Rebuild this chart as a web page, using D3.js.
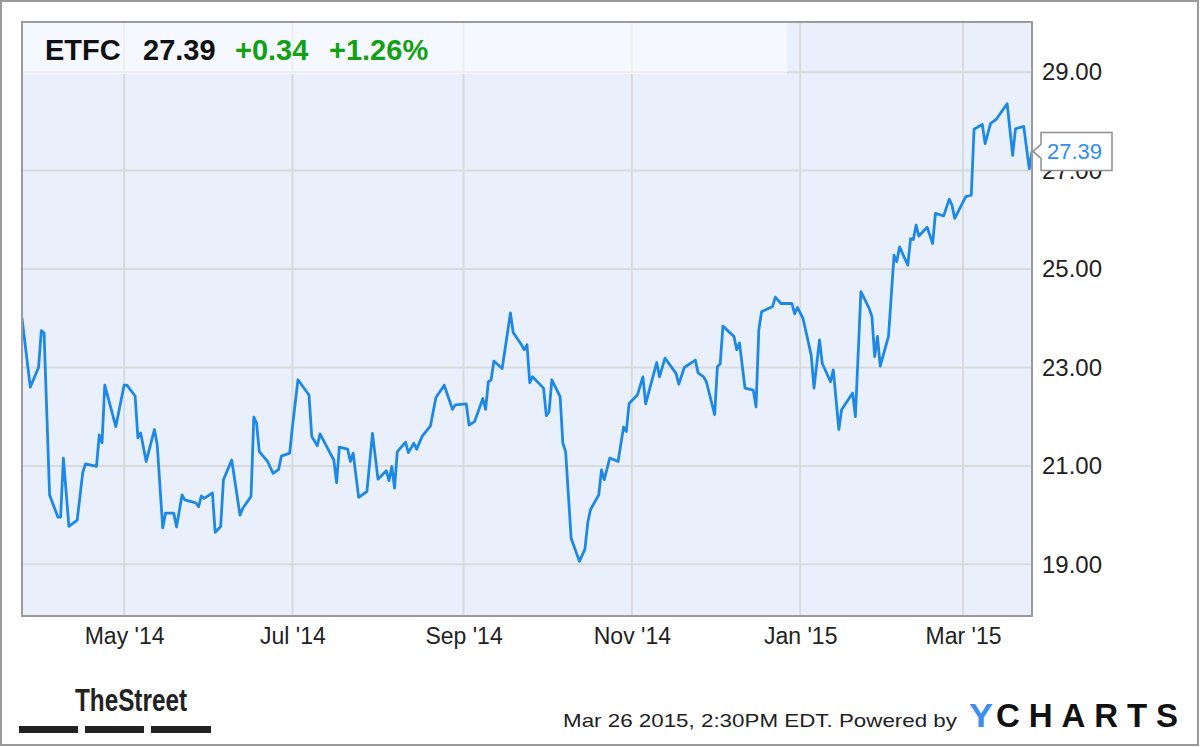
<!DOCTYPE html>
<html><head><meta charset="utf-8">
<script src="https://cdn.jsdelivr.net/npm/d3@7/dist/d3.min.js"></script>
<style>
html,body{margin:0;padding:0;background:#fff;}
svg{display:block;font-family:"Liberation Sans",Arial,sans-serif;}
</style></head>
<body>
<svg id="chart" width="1200" height="747"></svg>
<script>
const ticker = "ETFC";
const lastPrice = "27.39";
const change = "+0.34";
const changePct = "+1.26%";
const yTicks = [19, 21, 23, 25, 27, 29];
const xTickDates = ["2014-05-01","2014-07-01","2014-09-01","2014-11-01","2015-01-01","2015-03-01"];
const xTickLabels = ["May '14","Jul '14","Sep '14","Nov '14","Jan '15","Mar '15"];
const dates = [
"2014-03-25","2014-03-28","2014-03-31","2014-04-01","2014-04-02","2014-04-04","2014-04-07","2014-04-08","2014-04-09","2014-04-11",
"2014-04-14","2014-04-16","2014-04-17","2014-04-21","2014-04-22","2014-04-23","2014-04-24","2014-04-28","2014-05-01","2014-05-02",
"2014-05-05","2014-05-06","2014-05-07","2014-05-09","2014-05-12","2014-05-13","2014-05-15","2014-05-16","2014-05-19","2014-05-20",
"2014-05-22","2014-05-23","2014-05-27","2014-05-28","2014-05-29","2014-05-30","2014-06-02","2014-06-03","2014-06-05","2014-06-06",
"2014-06-09","2014-06-12","2014-06-13","2014-06-16","2014-06-17","2014-06-18","2014-06-19","2014-06-22","2014-06-24","2014-06-26",
"2014-06-27","2014-06-30","2014-07-01","2014-07-03","2014-07-07","2014-07-08","2014-07-10","2014-07-11","2014-07-14","2014-07-16",
"2014-07-17","2014-07-18","2014-07-21","2014-07-22","2014-07-23","2014-07-25","2014-07-28","2014-07-30","2014-08-01","2014-08-04",
"2014-08-05","2014-08-06","2014-08-07","2014-08-08","2014-08-11","2014-08-12","2014-08-14","2014-08-15","2014-08-17","2014-08-19",
"2014-08-20","2014-08-22","2014-08-25","2014-08-28","2014-08-29","2014-09-02","2014-09-03","2014-09-05","2014-09-08","2014-09-09",
"2014-09-10","2014-09-11","2014-09-12","2014-09-15","2014-09-18","2014-09-19","2014-09-22","2014-09-23","2014-09-24","2014-09-25",
"2014-09-26","2014-09-30","2014-10-01","2014-10-02","2014-10-03","2014-10-06","2014-10-07","2014-10-08","2014-10-10","2014-10-13",
"2014-10-15","2014-10-16","2014-10-17","2014-10-20","2014-10-21","2014-10-22","2014-10-24","2014-10-27","2014-10-29","2014-10-30",
"2014-10-31","2014-11-03","2014-11-05","2014-11-06","2014-11-10","2014-11-11","2014-11-13","2014-11-17","2014-11-18","2014-11-20",
"2014-11-24","2014-11-25","2014-11-27","2014-11-28","2014-12-01","2014-12-02","2014-12-03","2014-12-04","2014-12-08","2014-12-09",
"2014-12-10","2014-12-12","2014-12-15","2014-12-16","2014-12-17","2014-12-18","2014-12-22","2014-12-23","2014-12-25","2014-12-29",
"2014-12-30","2014-12-31","2015-01-02","2015-01-05","2015-01-06","2015-01-08","2015-01-09","2015-01-12","2015-01-13","2015-01-15",
"2015-01-16","2015-01-20","2015-01-21","2015-01-23","2015-01-26","2015-01-27","2015-01-28","2015-01-29","2015-01-30","2015-02-02",
"2015-02-04","2015-02-05","2015-02-06","2015-02-09","2015-02-10","2015-02-11","2015-02-12","2015-02-13","2015-02-16","2015-02-18",
"2015-02-19","2015-02-22","2015-02-24","2015-02-25","2015-02-26","2015-03-02","2015-03-04","2015-03-05","2015-03-08","2015-03-09",
"2015-03-11","2015-03-13","2015-03-17","2015-03-19","2015-03-20","2015-03-23","2015-03-25","2015-03-26"];
const prices = [
24.00,22.60,23.00,23.75,23.70,20.41,19.96,19.96,21.16,19.77,
19.90,20.86,21.04,20.99,21.63,21.47,22.64,21.80,22.64,22.64,
22.42,21.57,21.67,21.09,21.74,21.43,19.74,20.04,20.04,19.76,
20.41,20.31,20.25,20.17,20.39,20.34,20.45,19.65,19.77,20.72,
21.12,20.00,20.14,20.38,21.99,21.87,21.29,21.09,20.85,20.93,
21.20,21.26,21.80,22.75,22.44,21.60,21.41,21.65,21.33,21.12,
20.66,21.38,21.34,21.09,21.26,20.36,20.48,21.66,20.73,20.90,
20.70,20.99,20.55,21.29,21.48,21.27,21.46,21.34,21.60,21.74,
21.81,22.39,22.64,22.15,22.24,22.26,21.83,21.90,22.37,22.15,
22.71,22.75,23.13,22.98,24.11,23.71,23.46,23.36,23.46,22.69,
22.81,22.58,22.02,22.10,22.75,22.41,21.46,21.29,19.53,19.06,
19.31,19.84,20.11,20.41,20.92,20.72,21.16,21.09,21.79,21.70,
22.27,22.44,22.81,22.26,23.10,22.81,23.19,22.88,22.66,23.00,
23.15,22.89,22.81,22.71,22.04,23.02,23.07,23.84,23.63,23.36,
23.50,22.58,22.54,22.20,23.76,24.13,24.24,24.43,24.30,24.30,
24.09,24.22,24.00,23.25,22.58,23.56,23.08,22.71,22.95,21.74,
22.14,22.48,22.00,24.54,24.20,24.03,23.22,23.63,23.03,23.63,
25.28,25.15,25.45,25.08,25.62,25.60,25.89,25.67,25.85,25.52,
26.13,26.08,26.42,26.30,26.03,26.47,26.50,27.84,27.94,27.55,
27.96,28.04,28.36,27.31,27.85,27.90,27.04,27.39];
const footerText = "Mar 26 2015, 2:30PM EDT.  Powered by";

const parse = d3.timeParse("%Y-%m-%d");
const data = dates.map((d, i) => ({date: parse(d), value: prices[i]}));

const svg = d3.select("#chart");
const L = 22, T = 22, R = 1032, B = 616;

// outer border
svg.append("rect").attr("x", 1).attr("y", 1).attr("width", 1197).attr("height", 744)
  .attr("fill", "#fff").attr("stroke", "#9a9a9a").attr("stroke-width", 2);

const x = d3.scaleTime().domain([parse("2014-03-25"), parse("2015-03-26")]).range([L, R]);
const y = d3.scaleLinear().domain([17.95, 30.02]).range([B, T]);

// plot background
svg.append("rect").attr("x", L).attr("y", T).attr("width", R - L).attr("height", B - T).attr("fill", "#e9f0fc");

// gridlines
const grid = svg.append("g");
grid.selectAll(".hg").data(yTicks).join("line")
  .attr("x1", L).attr("x2", R).attr("y1", d => y(d)).attr("y2", d => y(d))
  .attr("stroke", "#d9dadb").attr("stroke-width", 2);
grid.selectAll(".vg").data(xTickDates).join("line")
  .attr("x1", d => x(parse(d))).attr("x2", d => x(parse(d))).attr("y1", T).attr("y2", B)
  .attr("stroke", "#d9dadb").attr("stroke-width", 2);

// header band (semi-transparent overlay)
svg.append("rect").attr("x", L).attr("y", T).attr("width", 765).attr("height", 52)
  .attr("fill", "#ffffff").attr("fill-opacity", 0.55);

// clip
svg.append("clipPath").attr("id", "clip").append("rect").attr("x", L).attr("y", T).attr("width", R - L).attr("height", B - T);

// line
const line = d3.line().x(d => x(d.date)).y(d => y(d.value));
svg.append("path").datum(data).attr("clip-path", "url(#clip)")
  .attr("d", line).attr("fill", "none").attr("stroke", "#1e88e5")
  .attr("stroke-width", 2.8).attr("stroke-linejoin", "round");

// plot frame
svg.append("rect").attr("x", L).attr("y", T).attr("width", R - L).attr("height", B - T)
  .attr("fill", "none").attr("stroke", "#9b9b9b").attr("stroke-width", 2);

// y axis
const yAxis = d3.axisRight(y).tickValues(yTicks).tickFormat(d3.format(".2f")).tickSize(0).tickPadding(10);
const ya = svg.append("g").attr("transform", `translate(${R},0)`).call(yAxis);
ya.select(".domain").remove();
ya.selectAll("text").attr("font-size", 24).attr("fill", "#222").attr("font-family", "Liberation Sans, Arial, sans-serif");

// x axis
const xAxis = d3.axisBottom(x).tickValues(xTickDates.map(parse))
  .tickFormat((d, i) => xTickLabels[i]).tickSize(0).tickPadding(12);
const xa = svg.append("g").attr("transform", `translate(0,${B})`).call(xAxis);
xa.select(".domain").remove();
xa.selectAll("text").attr("font-size", 23).attr("fill", "#222").attr("font-family", "Liberation Sans, Arial, sans-serif");

// header text
const hdr = svg.append("text").attr("x", 45).attr("y", 60).attr("font-size", 29).attr("font-weight", "bold");
hdr.append("tspan").attr("fill", "#111").text(ticker);
hdr.append("tspan").attr("x", 143).attr("fill", "#111").text(lastPrice);
hdr.append("tspan").attr("x", 235).attr("fill", "#14a014").text(change);
hdr.append("tspan").attr("x", 329).attr("fill", "#14a014").text(changePct);

// last price callout
const lv = data[data.length - 1];
const cy = y(lv.value);
const cg = svg.append("g");
cg.append("path")
  .attr("d", `M${R + 1},${cy} L${R + 9},${cy - 7} L${R + 9},${cy - 19} L${R + 80},${cy - 19} L${R + 80},${cy + 19} L${R + 9},${cy + 19} L${R + 9},${cy + 7} Z`)
  .attr("fill", "#fff").attr("stroke", "#8f8f8f").attr("stroke-width", 1.5);
cg.append("text").attr("x", R + 15).attr("y", cy + 8).attr("font-size", 22).attr("fill", "#2f8ef0").text(lastPrice);

// TheStreet logo
svg.append("text").attr("x", 75).attr("y", 711).attr("font-size", 31).attr("font-weight", "bold")
  .attr("fill", "#222").attr("textLength", 112).attr("lengthAdjust", "spacingAndGlyphs")
  .attr("font-family", "Liberation Sans Narrow, Liberation Sans, Arial, sans-serif").text("TheStreet");
[[19, 78], [85, 144], [151, 211]].forEach(([a, b]) => {
  svg.append("rect").attr("x", a).attr("y", 726).attr("width", b - a).attr("height", 7).attr("fill", "#222");
});

// footer
svg.append("text").attr("x", 563).attr("y", 727).attr("font-size", 19).attr("fill", "#222")
  .attr("textLength", 394).attr("lengthAdjust", "spacingAndGlyphs").text(footerText);
svg.append("text").attr("x", 969).attr("y", 727).attr("font-size", 33).attr("font-weight", "bold")
  .attr("fill", "#3d8ef0").attr("textLength", 24).attr("lengthAdjust", "spacingAndGlyphs").text("Y");
svg.append("text").attr("x", 996).attr("y", 727).attr("font-size", 33).attr("font-weight", "bold")
  .attr("fill", "#111").attr("textLength", 182).attr("lengthAdjust", "spacing").text("CHARTS");
</script>
</body></html>
